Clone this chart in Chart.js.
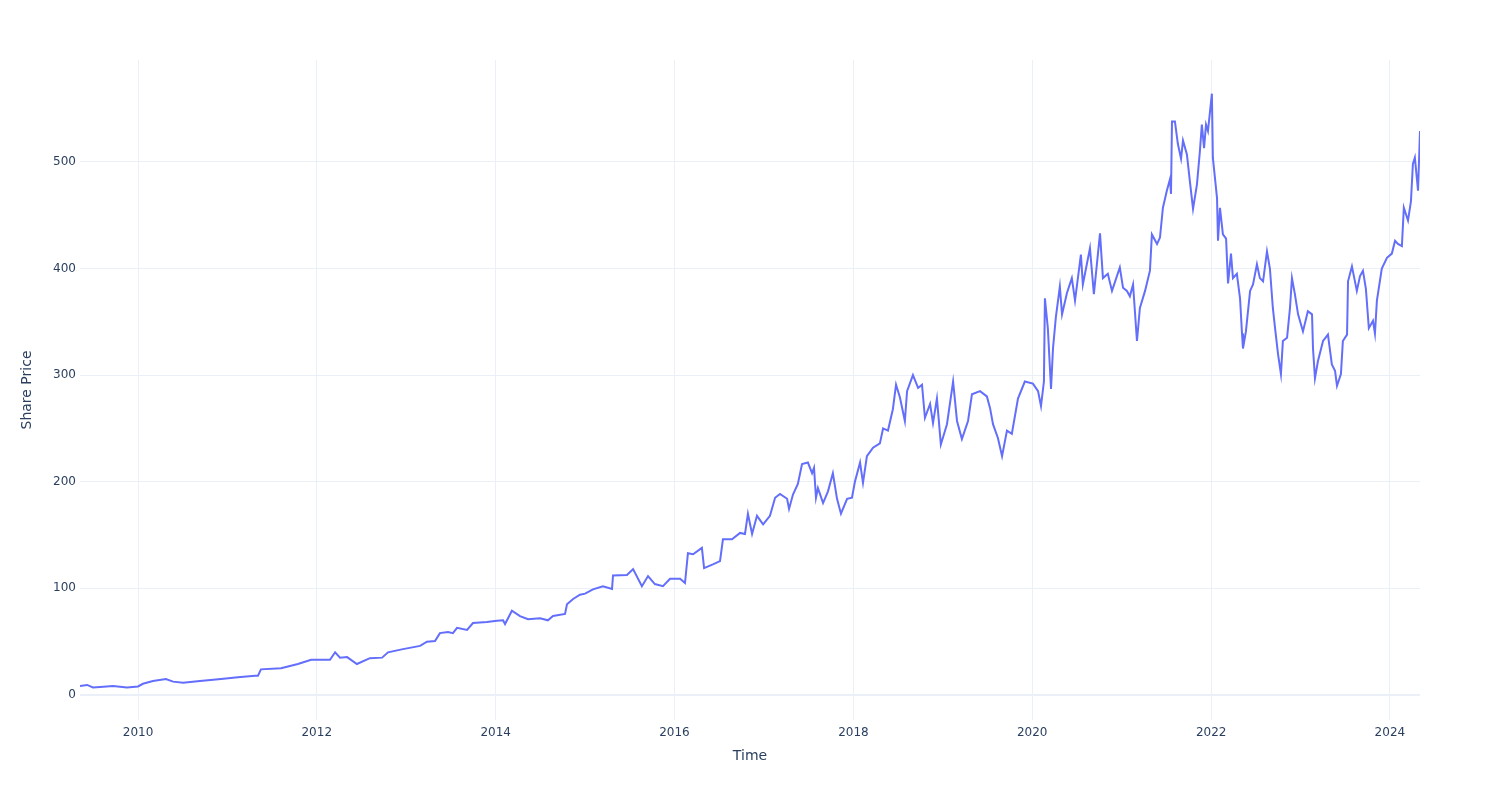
<!DOCTYPE html>
<html>
<head>
<meta charset="utf-8">
<script src="https://cdn.jsdelivr.net/npm/chart.js@4"></script>
<style>
  html, body { margin: 0; padding: 0; background: #fff; }
  #grafico { display: block; }
</style>
</head>
<body>
<canvas id="grafico" width="1500" height="800"></canvas>
<script>
// Dados (aprox.)
const dates = [
    '2009-05-09','2009-06-07','2009-07-01','2009-07-30','2009-09-21','2009-11-17','2010-01-01','2010-01-21','2010-03-03','2010-04-25',
    '2010-05-24','2010-07-04','2010-09-11','2010-12-06','2011-02-13','2011-04-24','2011-05-06','2011-05-18','2011-08-08','2011-10-16',
    '2011-12-09','2012-01-14','2012-02-24','2012-03-16','2012-04-05','2012-05-04','2012-06-13','2012-08-05','2012-09-24','2012-10-18',
    '2012-12-18','2013-02-26','2013-03-26','2013-04-28','2013-05-18','2013-06-20','2013-07-10','2013-07-27','2013-09-06','2013-09-30',
    '2013-11-26','2014-01-06','2014-01-31','2014-02-08','2014-03-08','2014-04-10','2014-05-13','2014-07-01','2014-08-02','2014-08-23',
    '2014-10-11','2014-10-19','2014-11-13','2014-12-11','2015-01-01','2015-02-02','2015-03-15','2015-04-21','2015-04-25','2015-06-21',
    '2015-07-16','2015-08-21','2015-09-15','2015-10-13','2015-11-15','2015-12-14','2016-01-24','2016-02-13','2016-02-25','2016-03-17',
    '2016-04-22','2016-05-01','2016-06-06','2016-07-05','2016-07-17','2016-08-23','2016-09-25','2016-10-15','2016-10-27','2016-11-13',
    '2016-12-03','2016-12-28','2017-01-25','2017-02-15','2017-03-07','2017-04-05','2017-04-13','2017-04-29','2017-05-19','2017-06-05',
    '2017-06-29','2017-07-16','2017-07-24','2017-08-01','2017-08-09','2017-08-30','2017-09-19','2017-10-09','2017-10-26','2017-11-11',
    '2017-12-06','2017-12-26','2018-01-07','2018-01-28','2018-02-09','2018-02-25','2018-03-22','2018-04-19','2018-05-02','2018-05-22',
    '2018-06-11','2018-06-24','2018-07-10','2018-07-30','2018-08-08','2018-09-01','2018-09-22','2018-10-08','2018-10-20','2018-11-10',
    '2018-11-22','2018-12-08','2018-12-24','2019-01-18','2019-02-12','2019-02-28','2019-03-20','2019-04-14','2019-04-30','2019-06-02',
    '2019-06-30','2019-07-13','2019-07-25','2019-08-14','2019-08-31','2019-09-20','2019-10-10','2019-11-04','2019-12-02','2020-01-04',
    '2020-01-25','2020-02-06','2020-02-18','2020-02-22','2020-03-05','2020-03-18','2020-03-26','2020-04-07','2020-04-23','2020-05-02',
    '2020-05-22','2020-06-11','2020-06-24','2020-07-18','2020-07-26','2020-08-24','2020-09-09','2020-10-04','2020-10-16','2020-11-05',
    '2020-11-22','2020-12-24','2021-01-06','2021-01-22','2021-02-03','2021-02-16','2021-03-04','2021-03-16','2021-04-06','2021-04-26',
    '2021-05-04','2021-05-25','2021-06-06','2021-06-18','2021-07-04','2021-07-17','2021-07-21','2021-07-25','2021-08-06','2021-08-18',
    '2021-08-31','2021-09-08','2021-09-24','2021-10-06','2021-10-19','2021-11-04','2021-11-16','2021-11-24','2021-12-03','2021-12-11',
    '2021-12-19','2022-01-04','2022-01-08','2022-01-25','2022-01-29','2022-02-06','2022-02-18','2022-03-03','2022-03-11','2022-03-23',
    '2022-03-31','2022-04-16','2022-04-29','2022-05-07','2022-05-11','2022-05-23','2022-06-09','2022-06-21','2022-07-07','2022-07-19',
    '2022-08-01','2022-08-17','2022-08-29','2022-09-10','2022-09-19','2022-10-01','2022-10-13','2022-10-21','2022-11-07','2022-11-19',
    '2022-11-27','2022-12-09','2022-12-22','2023-01-11','2023-01-31','2023-02-17','2023-02-21','2023-03-01','2023-03-13','2023-04-03',
    '2023-04-23','2023-05-09','2023-05-22','2023-05-30','2023-06-15','2023-06-23','2023-07-10','2023-07-14','2023-07-30','2023-08-19',
    '2023-09-01','2023-09-13','2023-09-25','2023-10-07','2023-10-24','2023-11-01','2023-11-09','2023-11-29','2023-12-20','2024-01-09',
    '2024-01-22','2024-02-03','2024-02-19','2024-02-27','2024-03-15','2024-03-27','2024-04-04','2024-04-12','2024-04-25','2024-05-03'
];

const prices = [
    8.4, 9.4, 7, 7.5, 8.5, 7, 8, 10.5, 13, 15,
    12.5, 11.5, 13, 15, 16.5, 18, 18, 24, 25, 29,
    33, 33, 33, 40, 35, 35.5, 29, 34.5, 35, 40,
    43, 46, 50, 50.5, 58, 59, 58, 63, 61, 67.5,
    68.5, 69.5, 70, 66.5, 79, 74, 71, 72, 70, 74,
    76, 85, 90, 94, 95, 99, 102, 99.5, 112, 112.5,
    118, 102, 111.5, 104, 102, 109, 109, 105, 133, 132,
    138, 119, 122.5, 125.5, 146, 146, 152, 151, 170, 151,
    168, 160, 168, 185, 188.5, 184, 174.5, 188, 198, 216.5,
    218, 208, 213, 185, 194, 180, 191, 208, 184, 170,
    184, 185, 200, 218, 199, 224, 232, 236, 250, 248,
    268, 291, 279, 257, 285, 300, 288, 291, 260, 273,
    255, 278, 235, 254, 294, 257, 240, 257, 282, 285,
    280, 269, 254, 241, 224, 248, 245, 278, 294, 292,
    285, 271, 294, 372, 344, 287, 325, 355, 383, 357,
    377, 391, 370, 413, 385, 419, 376, 433, 391, 395,
    379, 401, 382, 379, 374, 385, 332, 363, 379, 398,
    432, 423, 429, 457, 473, 484, 470, 538, 538, 517,
    503, 520, 507, 482, 456, 479, 510, 535, 513, 535,
    529, 564, 504, 466, 426, 457, 432, 428, 386, 414,
    391, 395, 372, 339, 325, 341, 379, 385, 404, 391,
    388, 416, 400, 363, 344, 320, 301, 332, 335, 363,
    391, 376, 357, 341, 360, 357, 325, 297, 313, 332,
    338, 310, 304, 290, 301, 332, 338, 388, 402, 379,
    393, 398, 381, 344, 351, 339, 370, 400, 410, 414,
    426, 423, 421, 457, 445, 463, 498, 504, 473, 529
];

const yearTicks = [2010, 2012, 2014, 2016, 2018, 2020, 2022, 2024];
const priceTicks = [0, 100, 200, 300, 400, 500];

const gridColor = '#EBF0F8';
const textColor = '#2a3f5f';
const fonte = 'DejaVu Sans';

const pontos = dates.map((d, i) => ({ x: Date.parse(d), y: prices[i] }));

const ctx = document.getElementById('grafico');
new Chart(ctx, {
    type: 'line',
    data: {
        datasets: [{
            label: 'Share Price',
            data: pontos,
            borderColor: '#636efa',
            borderWidth: 2,
            pointRadius: 0,
            tension: 0,
            fill: false
        }]
    },
    options: {
        responsive: false,
        animation: false,
        devicePixelRatio: 1,
        layout: { padding: { top: 60, right: 80, left: 0, bottom: 0 } },
        plugins: {
            legend: { display: false },
            tooltip: { enabled: false }
        },
        scales: {
            x: {
                type: 'linear',
                min: Date.parse(dates[0]),
                max: Date.parse(dates[dates.length - 1]),
                afterBuildTicks: (s) => {
                    s.ticks = yearTicks.map(y => ({ value: Date.UTC(y, 0, 1) }));
                },
                afterFit: (s) => { s.height = 80; },
                ticks: {
                    autoSkip: false,
                    maxRotation: 0,
                    padding: 6,
                    color: textColor,
                    font: { family: fonte, size: 12 },
                    callback: (v) => new Date(v).getUTCFullYear()
                },
                grid: { color: gridColor, lineWidth: 1, drawTicks: false },
                border: { display: false },
                title: {
                    display: true,
                    text: 'Time',
                    color: textColor,
                    font: { family: fonte, size: 14 },
                    padding: { top: 0, bottom: 35 }
                }
            },
            y: {
                type: 'linear',
                min: -23.5,
                max: 595.6,
                afterBuildTicks: (s) => {
                    s.ticks = priceTicks.map(v => ({ value: v }));
                },
                afterFit: (s) => { s.width = 80; },
                ticks: {
                    padding: 4,
                    color: textColor,
                    font: { family: fonte, size: 12 }
                },
                grid: {
                    color: gridColor,
                    lineWidth: (c) => (c.tick && c.tick.value === 0 ? 2 : 1),
                    drawTicks: false
                },
                border: { display: false },
                title: {
                    display: true,
                    text: 'Share Price',
                    color: textColor,
                    font: { family: fonte, size: 14 },
                    padding: { top: 19, bottom: 0 }
                }
            }
        }
    }
});
</script>
</body>
</html>
